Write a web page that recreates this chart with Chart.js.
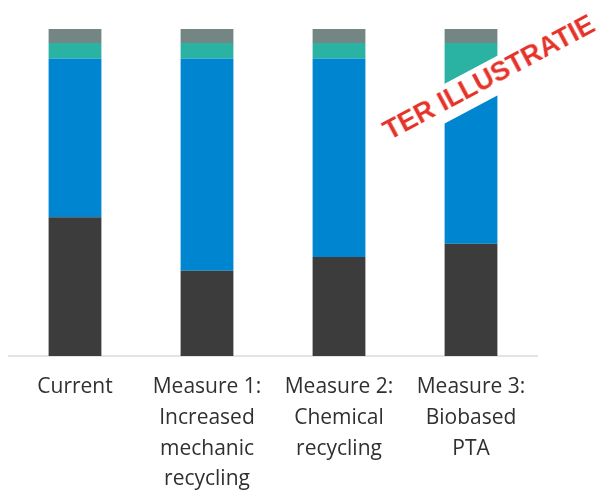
<!DOCTYPE html>
<html>
<head>
<meta charset="utf-8">
<script src="https://cdn.jsdelivr.net/npm/chart.js@4/dist/chart.umd.min.js"></script>
<style>
  html, body { margin: 0; padding: 0; background: #fff; overflow: hidden; }
  #wrap { position: relative; width: 597px; height: 494px; }
  #stamp {
    position: absolute;
    left: 367px; top: 62px;
    width: 246px; height: 35px;
    line-height: 35px;
    background: #fff;
    color: #e5332a;
    font: bold 27px "Liberation Sans", Arial, sans-serif;
    text-align: center;
    white-space: nowrap;
    transform: rotate(-28deg);
    transform-origin: 50% 50%;
  }
</style>
</head>
<body>
<div id="wrap">
  <canvas id="chart" width="597" height="494"></canvas>
  <div id="stamp">TER ILLUSTRATIE</div>
</div>
<script>
// categories (multi-line tick labels)
const categories = [
  ['Current'],
  ['Measure 1:', 'Increased', 'mechanic', 'recycling'],
  ['Measure 2:', 'Chemical', 'recycling'],
  ['Measure 3:', 'Biobased', 'PTA'],
];

// share per segment, bottom to top (% of total)
const darkVals = [42.4, 26.1, 30.3, 34.3];
const blueVals = [48.6, 64.9, 60.7, 47.2];
const tealVals = [4.7, 4.7, 4.7, 14.2];
const greyVals = [4.3, 4.3, 4.3, 4.3];

const colors = {
  dark: '#3c3c3c',
  blue: '#0086d1',
  teal: '#2ab3a2',
  grey: '#738683',
};

const ds = (label, data, color) => ({
  label, data, backgroundColor: color, borderWidth: 0,
  categoryPercentage: 1, barPercentage: 0.4,
});

new Chart(document.getElementById('chart'), {
  type: 'bar',
  data: {
    labels: categories,
    datasets: [
      ds('dark', darkVals, colors.dark),
      ds('blue', blueVals, colors.blue),
      ds('teal', tealVals, colors.teal),
      ds('grey', greyVals, colors.grey),
    ],
  },
  options: {
    responsive: false,
    animation: false,
    layout: { padding: { left: 9, right: 60, top: 29, bottom: 0 } },
    plugins: { legend: { display: false }, tooltip: { enabled: false } },
    scales: {
      x: {
        stacked: true,
        grid: { display: false, drawTicks: false },
        border: { display: true, color: '#e3e3e3', width: 2 },
        afterFit: (scale) => { scale.height = 138; },
        ticks: {
          color: '#303030',
          padding: 16,
          maxRotation: 0,
          autoSkip: false,
          font: { family: '"Open Sans", "Noto Sans", sans-serif', size: 21, lineHeight: 1.46 },
        },
      },
      y: {
        stacked: true,
        display: false,
        min: 0,
        max: 100,
      },
    },
  },
});
</script>
</body>
</html>
